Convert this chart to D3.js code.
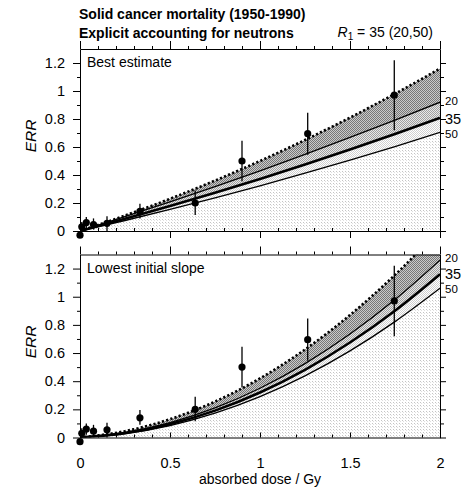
<!DOCTYPE html>
<html>
<head>
<meta charset="utf-8">
<script src="https://cdn.jsdelivr.net/npm/d3@7"></script>
<style>
  body { margin: 0; background: #fff; }
  svg { font-family: "Liberation Sans", Arial, Helvetica, sans-serif; }
  .axis path, .axis line { stroke: #000; stroke-width: 1; }
  .axis text { font-size: 14.5px; fill: #000; }
</style>
</head>
<body>
<svg id="chart" width="465" height="493"></svg>
<script>
// observed data points (same in both panels)
const doses = [0, 0.01, 0.035, 0.075, 0.15, 0.333, 0.64, 0.9, 1.265, 1.746];
const errValues = [-0.03, 0.03, 0.06, 0.045, 0.055, 0.14, 0.2, 0.5, 0.695, 0.97];
const errLow = [-0.04, 0.0, 0.02, 0.01, 0.0, 0.09, 0.115, 0.355, 0.545, 0.72];
const errHigh = [-0.02, 0.065, 0.10, 0.09, 0.105, 0.195, 0.29, 0.645, 0.845, 1.22];

// fitted curves
const curveDoses = [0, 0.25, 0.5, 0.75, 1, 1.25, 1.5, 1.75, 2];
const bestUpper = [0, 0.110, 0.230, 0.360, 0.500, 0.650, 0.810, 0.980, 1.160];
const best20 = [0, 0.102, 0.208, 0.317, 0.430, 0.547, 0.668, 0.792, 0.920];
const best35 = [0, 0.087, 0.178, 0.273, 0.372, 0.475, 0.582, 0.693, 0.808];
const best50 = [0, 0.075, 0.154, 0.237, 0.323, 0.413, 0.506, 0.603, 0.704];
const lowUpper = [0, 0.045, 0.130, 0.255, 0.420, 0.625, 0.870, 1.155, 1.480];
const low20 = [0, 0.035, 0.105, 0.210, 0.350, 0.525, 0.735, 0.980, 1.260];
const low35 = [0, 0.031, 0.095, 0.191, 0.320, 0.481, 0.675, 0.901, 1.160];
const low50 = [0, 0.0275, 0.085, 0.173, 0.290, 0.4375, 0.615, 0.823, 1.060];

const yTicks = [0, 0.2, 0.4, 0.6, 0.8, 1, 1.2];
const yMinor = [0.1, 0.3, 0.5, 0.7, 0.9, 1.1];
const xTicks = [0, 0.5, 1, 1.5, 2];
const xMinor = [0.1, 0.2, 0.3, 0.4, 0.6, 0.7, 0.8, 0.9, 1.1, 1.2, 1.3, 1.4, 1.6, 1.7, 1.8, 1.9];
const r1Labels = ["20", "35", "50"];

const svg = d3.select("#chart");
const x = d3.scaleLinear().domain([0, 2]).range([80, 440]);

// halftone-like fill patterns
const defs = svg.append("defs");
function checker(id, a, b) {
  const p = defs.append("pattern").attr("id", id).attr("width", 2).attr("height", 2)
    .attr("patternUnits", "userSpaceOnUse");
  p.append("rect").attr("width", 2).attr("height", 2).attr("fill", b);
  p.append("rect").attr("width", 1).attr("height", 1).attr("fill", a);
  p.append("rect").attr("x", 1).attr("y", 1).attr("width", 1).attr("height", 1).attr("fill", a);
}
checker("darkFill", "#777", "#cacaca");
checker("midFill", "#a0a0a0", "#e8e8e8");
checker("lightFill", "#d0d0d0", "#ffffff");
const pv = defs.append("pattern").attr("id", "paleFill").attr("width", 3).attr("height", 3)
  .attr("patternUnits", "userSpaceOnUse");
pv.append("rect").attr("width", 3).attr("height", 3).attr("fill", "#fff");
pv.append("rect").attr("width", 1).attr("height", 1).attr("fill", "#c4c4c4");
pv.append("rect").attr("x", 1).attr("y", 1).attr("width", 1).attr("height", 1).attr("fill", "#e0e0e0");

function drawPanel(id, y0, y1, curves, title, labels) {
  const y = d3.scaleLinear().domain([0, 1.3]).range([y0, y1]);
  const g = svg.append("g");

  defs.append("clipPath").attr("id", "clip" + id)
    .append("rect").attr("x", x(0)).attr("y", y(1.3)).attr("width", x(2) - x(0)).attr("height", y(0) - y(1.3));

  const plot = g.append("g").attr("clip-path", `url(#clip${id})`);
  const pts = curveDoses.map((d, i) => ({ d, up: curves.upper[i], c20: curves.c20[i], c35: curves.c35[i], c50: curves.c50[i] }));

  const band = (top, bot) => d3.area().curve(d3.curveMonotoneX)
    .x(p => x(p.d)).y0(p => y(bot(p))).y1(p => y(top(p)));
  plot.append("path").attr("d", band(p => p.c50, p => 0)(pts)).attr("fill", "url(#paleFill)");
  plot.append("path").attr("d", band(p => p.c35, p => p.c50)(pts)).attr("fill", "url(#lightFill)");
  plot.append("path").attr("d", band(p => p.c20, p => p.c35)(pts)).attr("fill", "url(#midFill)");
  plot.append("path").attr("d", band(p => p.up, p => p.c20)(pts)).attr("fill", "url(#darkFill)");

  const line = key => d3.line().curve(d3.curveMonotoneX).x(p => x(p.d)).y(p => y(p[key]))(pts);
  plot.append("path").attr("d", line("c50")).attr("fill", "none").attr("stroke", "#000").attr("stroke-width", 1.3);
  plot.append("path").attr("d", line("c20")).attr("fill", "none").attr("stroke", "#000").attr("stroke-width", 1.3);
  plot.append("path").attr("d", line("c35")).attr("fill", "none").attr("stroke", "#000").attr("stroke-width", 2.6);
  plot.append("path").attr("d", line("up")).attr("fill", "none").attr("stroke", "#000")
    .attr("stroke-width", 2.6).attr("stroke-dasharray", "2.2,2.2");

  // axes
  const left = g.append("g").attr("class", "axis").attr("transform", `translate(${x(0)},0)`);
  left.call(d3.axisLeft(y).tickValues(yTicks).tickSize(7).tickSizeOuter(0).tickPadding(8).tickFormat(d => String(d)));
  left.append("g").call(d3.axisLeft(y).tickValues(yMinor).tickSize(3).tickFormat(""))
    .select(".domain").remove();

  const right = g.append("g").attr("class", "axis").attr("transform", `translate(${x(2)},0)`);
  right.call(d3.axisRight(y).tickValues(yTicks).tickSize(6).tickSizeOuter(0).tickFormat(""));
  right.append("g").call(d3.axisRight(y).tickValues(yMinor).tickSize(4).tickFormat(""))
    .select(".domain").remove();

  const top = g.append("g").attr("class", "axis").attr("transform", `translate(0,${y(1.3)})`);
  top.call(d3.axisTop(x).tickValues(xTicks).tickSize(8).tickSizeOuter(0).tickFormat(""));
  top.append("g").call(d3.axisTop(x).tickValues(xMinor).tickSize(3).tickFormat("")).select(".domain").remove();

  const bottom = g.append("g").attr("class", "axis").attr("transform", `translate(0,${y(0)})`);
  bottom.call(d3.axisBottom(x).tickValues(xMinor).tickSize(-3).tickSizeOuter(0).tickFormat(""));

  // data points with error bars
  const obs = doses.map((d, i) => ({ d, v: errValues[i], lo: errLow[i], hi: errHigh[i] }));
  g.selectAll(".err").data(obs).enter().append("line")
    .attr("x1", o => x(o.d)).attr("x2", o => x(o.d))
    .attr("y1", o => y(o.lo)).attr("y2", o => y(o.hi))
    .attr("stroke", "#000").attr("stroke-width", 1.3);
  g.selectAll(".dot").data(obs).enter().append("circle")
    .attr("cx", o => x(o.d)).attr("cy", o => y(o.v)).attr("r", 3.6).attr("fill", "#000");

  g.append("text").attr("x", 87).attr("y", y(1.3) + 18).attr("font-size", 14).text(title);

  g.append("text").attr("transform", `translate(36,${(y(0) + y(1.3)) / 2 - 4}) rotate(-90)`)
    .attr("text-anchor", "middle").attr("font-size", 15.5).attr("font-style", "italic").text("ERR");

  r1Labels.forEach((t, i) => {
    g.append("text").attr("x", 445).attr("y", labels[i])
      .attr("font-size", t === "35" ? 14.5 : 11.5).text(t);
  });
  return { y, bottom };
}

const p1 = drawPanel("A", 231, 49, { upper: bestUpper, c20: best20, c35: best35, c50: best50 },
  "Best estimate", [105, 124, 137.5]);
// top panel bottom axis: major ticks crossing downward
p1.bottom.append("g").call(d3.axisBottom(x).tickValues(xTicks).tickSize(7).tickFormat("")).select(".domain").remove();

const p2 = drawPanel("B", 437.5, 254.5, { upper: lowUpper, c20: low20, c35: low35, c50: low50 },
  "Lowest initial slope", [262, 279, 293]);
p2.bottom.append("g").call(d3.axisBottom(x).tickValues(xTicks).tickSize(-5).tickPadding(20).tickFormat(d => String(d)))
  .select(".domain").remove();

svg.append("text").attr("x", x(1)).attr("y", 484).attr("text-anchor", "middle").attr("font-size", 14)
  .text("absorbed dose / Gy");

// titles
svg.append("text").attr("x", 79).attr("y", 19).attr("font-size", 14).attr("font-weight", "bold")
  .text("Solid cancer mortality (1950-1990)");
svg.append("text").attr("x", 79).attr("y", 38).attr("font-size", 14).attr("font-weight", "bold")
  .text("Explicit accounting for neutrons");
const r1 = svg.append("text").attr("x", 433).attr("y", 37).attr("text-anchor", "end").attr("font-size", 14);
r1.append("tspan").attr("font-style", "italic").text("R");
r1.append("tspan").attr("font-size", 10).attr("dy", 3).text("1");
r1.append("tspan").attr("dy", -3).text(" = 35 (20,50)");
</script>
</body>
</html>
